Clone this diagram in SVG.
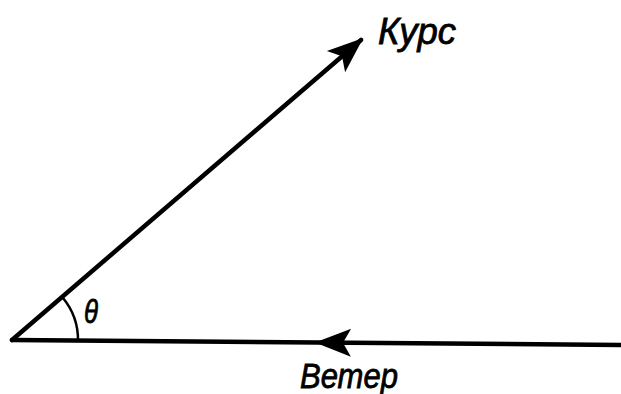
<svg xmlns="http://www.w3.org/2000/svg" width="621" height="394" viewBox="0 0 621 394">
<style>
.ln{fill:none;stroke:#000;stroke-width:4.5;stroke-linecap:round}
.lb{font-family:"Liberation Sans",Arial,sans-serif;font-style:italic;fill:#000;stroke:#000;stroke-width:0.8}
</style>
<defs>
<marker id="ah" markerUnits="userSpaceOnUse" markerWidth="44" markerHeight="34" viewBox="-36 -17 44 34" refX="0" refY="0" orient="auto">
<path d="M3,0 L-33,-14 L-25,0 L-33,14 Z" fill="#000"/>
</marker>
</defs>
<rect width="621" height="394" fill="#fff"/>
<g id="connectors">
<path id="course" class="ln" d="M12,340 L361,40" marker-end="url(#ah)"/>
<path id="wind" class="ln" d="M621,345 L318,342.5 L12,340" marker-mid="url(#ah)"/>
<path id="angle" fill="none" stroke="#000" stroke-width="2.5" d="M78,341 A66,66 0 0 0 63,298"/>
</g>
<g id="label-course"><text class="lb" x="378" y="44" font-size="37" textLength="78" lengthAdjust="spacingAndGlyphs">Курс</text></g>
<g id="label-theta"><text class="lb" x="84" y="323" font-size="34" textLength="14" lengthAdjust="spacingAndGlyphs">θ</text></g>
<g id="label-wind"><text class="lb" x="300" y="388" font-size="35" textLength="98" lengthAdjust="spacingAndGlyphs">Ветер</text></g>
</svg>
